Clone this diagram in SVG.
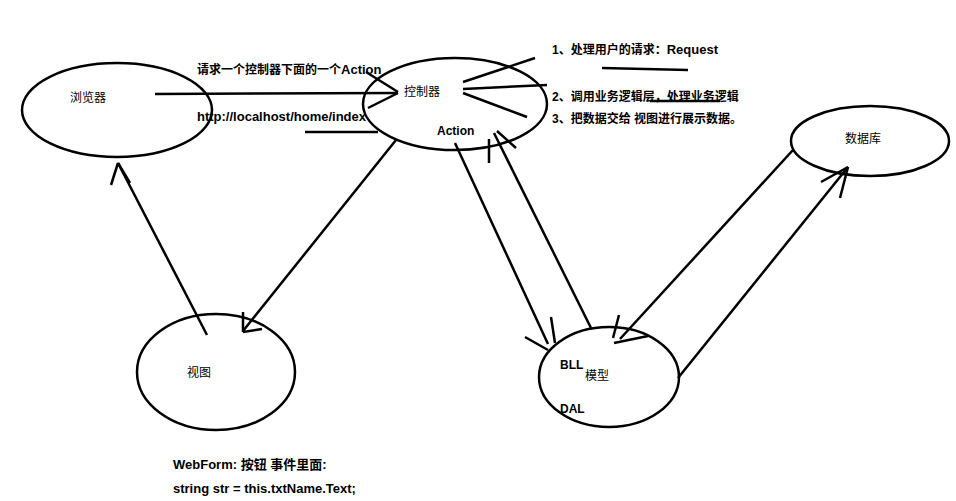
<svg xmlns="http://www.w3.org/2000/svg" width="956" height="501" viewBox="0 0 956 501">
<style>
.n{fill:none;stroke:#000;stroke-width:2.5}
.c line{stroke:#000;stroke-width:2.5}
text{font-family:"Liberation Sans","Noto Sans CJK SC",sans-serif;font-size:12px;fill:#000}
.b{font-weight:bold}
.l{font-size:13px}
</style>
<rect width="956" height="501" fill="#fff"/>
<g id="browser"><ellipse class="n" cx="117" cy="110" rx="95" ry="47"/><text x="70" y="102">浏览器</text></g>
<g id="controller"><ellipse class="n" cx="455" cy="104" rx="92" ry="46"/><text x="404" y="96">控制器</text><text class="b" x="437" y="135">Action</text></g>
<g id="view"><ellipse class="n" cx="216" cy="372" rx="79" ry="58"/><text x="187" y="377">视图</text></g>
<g id="model"><ellipse class="n" cx="609" cy="377" rx="70" ry="50"/><text class="b" x="560" y="369">BLL</text><text x="585" y="380">模型</text><text class="b" x="560" y="413">DAL</text></g>
<g id="db"><ellipse class="n" cx="870" cy="141" rx="79" ry="35"/><text x="845" y="143">数据库</text></g>
<g class="c">
<line x1="155" y1="94" x2="398" y2="93"/><line x1="366" y1="72" x2="398" y2="92"/><line x1="368" y1="108" x2="398" y2="93"/>
<line x1="305" y1="132" x2="378" y2="132"/>
<line x1="463" y1="82" x2="535" y2="58"/><line x1="463" y1="89" x2="547" y2="85"/><line x1="463" y1="93" x2="527" y2="117"/>
<line x1="602" y1="68" x2="688" y2="70"/><line x1="650" y1="101" x2="720" y2="101"/>
<line x1="396" y1="140" x2="243" y2="331"/><line x1="243" y1="312" x2="243" y2="332"/><line x1="243" y1="332" x2="262" y2="329"/>
<line x1="207" y1="335" x2="118" y2="163"/><line x1="118" y1="163" x2="111" y2="185"/><line x1="118" y1="163" x2="130" y2="183"/>
<line x1="455" y1="143" x2="548" y2="344"/><line x1="525" y1="337" x2="548" y2="350"/><line x1="551" y1="317" x2="555" y2="343"/>
<line x1="591" y1="328" x2="494" y2="133"/><line x1="489" y1="139" x2="489" y2="163"/><line x1="497" y1="131" x2="516" y2="148"/>
<line x1="620" y1="339" x2="793" y2="150"/><line x1="614" y1="343" x2="648" y2="336"/><line x1="613" y1="338" x2="619" y2="315"/>
<line x1="678" y1="378" x2="848" y2="167"/><line x1="848" y1="167" x2="821" y2="182"/><line x1="848" y1="167" x2="840" y2="198"/>
</g>
<text class="b" x="197" y="74">请求一个控制器下面的一个<tspan class="l">Action</tspan></text>
<text class="b l" x="197" y="121">http://localhost/home/index</text>
<text class="b" x="552" y="54">1、处理用户的请求：<tspan class="l">Request</tspan></text>
<text class="b" x="552" y="101">2、调用业务逻辑层，处理业务逻辑</text>
<text class="b" x="552" y="123">3、把数据交给 视图进行展示数据。</text>
<text class="b l" x="173" y="469">WebForm: 按钮 事件里面:</text>
<text class="b l" x="173" y="493">string str = this.txtName.Text;</text>
</svg>
